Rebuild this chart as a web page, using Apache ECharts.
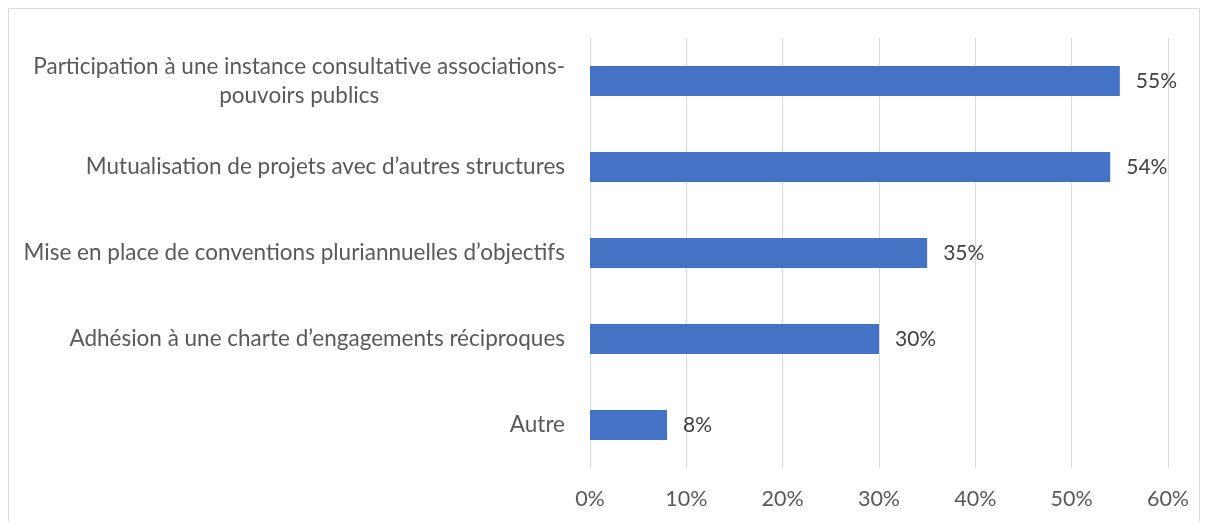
<!DOCTYPE html>
<html>
<head>
<meta charset="utf-8">
<script src="https://cdn.jsdelivr.net/npm/echarts@6/dist/echarts.min.js"></script>
<style>
  html, body { margin: 0; padding: 0; background: #fff; }
  #chart { width: 1208px; height: 521px; }
</style>
</head>
<body>
<div id="chart"></div>
<script>
// Categories, top to bottom
const categories = [
  'Participation à une instance consultative associations-\npouvoirs publics',
  'Mutualisation de projets avec d’autres structures',
  'Mise en place de conventions pluriannuelles d’objectifs',
  'Adhésion à une charte d’engagements réciproques',
  'Autre'
];
// Share of respondents (%)
const values = [55, 54, 35, 30, 8];
// X-axis range
const axisMin = 0;
const axisMax = 60;
const axisStep = 10;

const FONT = 'Lato';
const chart = echarts.init(document.getElementById('chart'));

chart.setOption({
  animation: false,
  backgroundColor: '#ffffff',
  graphic: [{
    type: 'rect',
    shape: { x: 8.5, y: 8.5, width: 1191, height: 530 },
    style: { fill: 'none', stroke: '#d9d9d9', lineWidth: 1 },
    silent: true
  }],
  grid: { left: 590, right: 40, top: 38, bottom: 53 },
  xAxis: {
    type: 'value',
    min: axisMin,
    max: axisMax,
    interval: axisStep,
    axisLine: { show: false },
    axisTick: { show: false },
    splitLine: { show: true, lineStyle: { color: '#d9d9d9', width: 1 } },
    axisLabel: {
      formatter: v => v + '%',
      color: '#595959',
      fontFamily: FONT,
      fontSize: 21.5,
      margin: 20
    }
  },
  yAxis: {
    type: 'category',
    inverse: true,
    data: categories,
    axisLine: { show: true, lineStyle: { color: '#d9d9d9' } },
    axisTick: { show: false },
    axisLabel: {
      margin: 25,
      align: 'right',
      formatter: v => v.split('\n').map(l => '{c|' + l + '}').join('\n'),
      rich: {
        c: {
          align: 'center',
          color: '#595959',
          fontFamily: FONT,
          fontSize: 22.5,
          lineHeight: 29
        }
      }
    }
  },
  series: [{
    type: 'bar',
    data: values,
    barWidth: 30,
    itemStyle: { color: '#4472c4' },
    label: {
      show: true,
      position: 'right',
      distance: 16,
      formatter: p => p.value + '%',
      color: '#404040',
      fontFamily: FONT,
      fontSize: 21
    }
  }]
});
</script>
</body>
</html>
